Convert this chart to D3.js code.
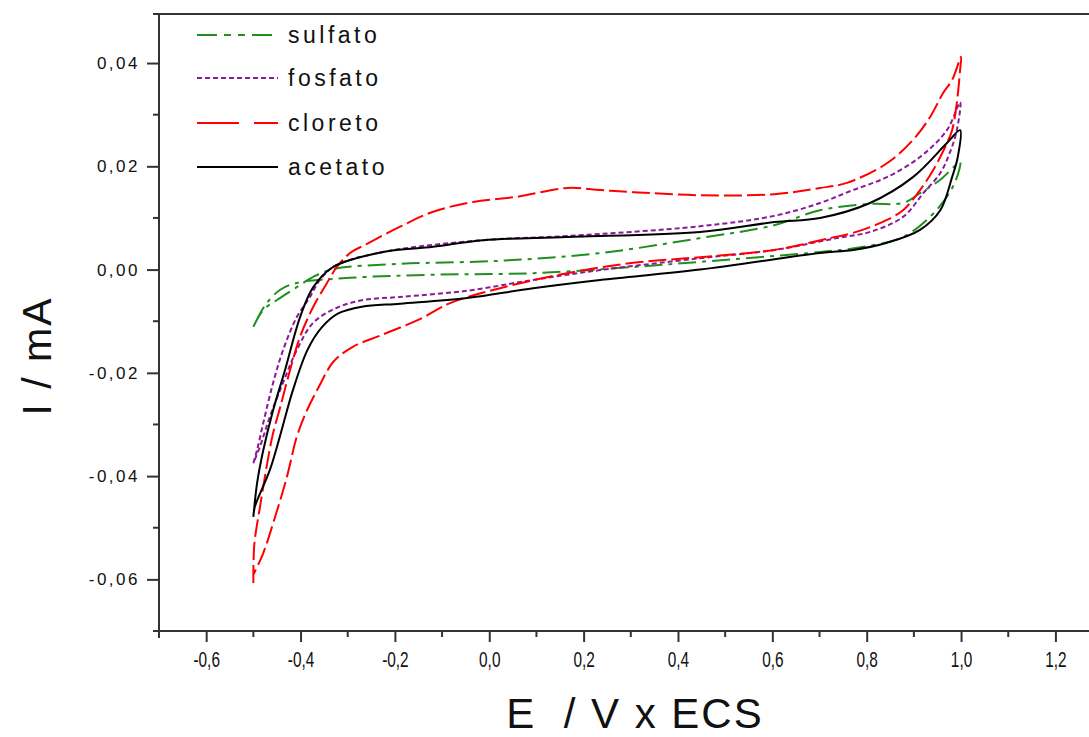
<!DOCTYPE html>
<html>
<head>
<meta charset="utf-8">
<script src="https://cdn.jsdelivr.net/npm/d3@7"></script>
<style>
  body { margin: 0; background: #fff; }
  svg { display: block; font-family: "Liberation Sans", Arial, sans-serif; }
</style>
</head>
<body>
<svg id="chart" width="1089" height="737"></svg>
<script>
// voltammograms, [E (V x ECS), I (mA)], forward scan then reverse scan
const sulfato = [
  [-0.500, -0.0111], [-0.479, -0.0078], [-0.450, -0.0059], [-0.408, -0.0034], [-0.373, -0.0014],
  [-0.331, 0.0001], [-0.189, 0.0011], [0.023, 0.0017], [0.235, 0.0032], [0.447, 0.0061],
  [0.604, 0.0086], [0.701, 0.0115], [0.807, 0.0127], [0.877, 0.0129], [0.913, 0.0148],
  [0.956, 0.0174], [0.998, 0.0208],
  [0.996, 0.0193], [0.985, 0.0165], [0.970, 0.0141], [0.934, 0.0102], [0.877, 0.0063], [0.793, 0.0044],
  [0.701, 0.0034], [0.447, 0.0015], [0.305, 0.0005], [0.093, -0.0007], [-0.119, -0.0010],
  [-0.295, -0.0016], [-0.408, -0.0026], [-0.443, -0.0039], [-0.475, -0.0069], [-0.500, -0.0111]
];

const fosfato = [
  [-0.500, -0.0375], [-0.492, -0.0349], [-0.479, -0.0297], [-0.458, -0.0219], [-0.437, -0.0156],
  [-0.408, -0.0092], [-0.380, -0.0053], [-0.359, -0.0020], [-0.327, 0.0007], [-0.225, 0.0034],
  [-0.013, 0.0057], [0.165, 0.0065], [0.447, 0.0084], [0.604, 0.0104], [0.701, 0.0129],
  [0.771, 0.0154], [0.843, 0.0179], [0.913, 0.0218], [0.970, 0.0270], [0.998, 0.0324],
  [0.991, 0.0270], [0.976, 0.0226], [0.956, 0.0187], [0.920, 0.0148], [0.877, 0.0102],
  [0.807, 0.0073], [0.737, 0.0061], [0.604, 0.0038], [0.447, 0.0022], [0.235, -0.0001],
  [0.093, -0.0020], [-0.047, -0.0041], [-0.189, -0.0053], [-0.267, -0.0059], [-0.323, -0.0074],
  [-0.373, -0.0103], [-0.408, -0.0156], [-0.437, -0.0219], [-0.465, -0.0285], [-0.486, -0.0343],
  [-0.500, -0.0375]
];

const cloreto = [
  [-0.500, -0.0607], [-0.498, -0.0533], [-0.486, -0.0460], [-0.460, -0.0324], [-0.443, -0.0266],
  [-0.422, -0.0194], [-0.401, -0.0130], [-0.373, -0.0072], [-0.344, -0.0026], [-0.323, 0.0005],
  [-0.295, 0.0032], [-0.259, 0.0050], [-0.189, 0.0083], [-0.119, 0.0112], [-0.034, 0.0131],
  [0.059, 0.0141], [0.165, 0.0158], [0.235, 0.0154], [0.305, 0.0150], [0.447, 0.0144],
  [0.604, 0.0146], [0.701, 0.0158], [0.758, 0.0168], [0.843, 0.0206], [0.898, 0.0251],
  [0.934, 0.0295], [0.962, 0.0342], [0.981, 0.0367], [1.000, 0.0412],
  [0.998, 0.0387], [0.991, 0.0323], [0.981, 0.0270], [0.966, 0.0237], [0.941, 0.0193],
  [0.913, 0.0154], [0.877, 0.0115], [0.828, 0.0090], [0.771, 0.0071], [0.722, 0.0061],
  [0.604, 0.0038], [0.447, 0.0024], [0.305, 0.0013], [0.165, -0.0007], [0.023, -0.0036],
  [-0.083, -0.0065], [-0.147, -0.0096], [-0.232, -0.0128], [-0.290, -0.0150], [-0.330, -0.0178],
  [-0.360, -0.0225], [-0.386, -0.0272], [-0.408, -0.0324], [-0.429, -0.0402], [-0.458, -0.0491],
  [-0.479, -0.0549], [-0.500, -0.0591]
];

const acetato = [
  [-0.500, -0.0479], [-0.492, -0.0413], [-0.479, -0.0350], [-0.458, -0.0272], [-0.433, -0.0195],
  [-0.401, -0.0092], [-0.373, -0.0034], [-0.331, 0.0005], [-0.225, 0.0034], [-0.119, 0.0044],
  [-0.013, 0.0057], [0.165, 0.0063], [0.447, 0.0073], [0.604, 0.0092], [0.701, 0.0100],
  [0.807, 0.0129], [0.898, 0.0179], [0.970, 0.0245], [0.998, 0.0270],
  [0.993, 0.0218], [0.981, 0.0179], [0.956, 0.0115], [0.913, 0.0077], [0.843, 0.0052],
  [0.771, 0.0038], [0.701, 0.0032], [0.447, 0.0000], [0.235, -0.0020], [0.093, -0.0036],
  [-0.047, -0.0055], [-0.189, -0.0066], [-0.270, -0.0072], [-0.320, -0.0085], [-0.355, -0.0112],
  [-0.385, -0.0155], [-0.416, -0.0233], [-0.444, -0.0324], [-0.465, -0.0388], [-0.497, -0.0460],
  [-0.500, -0.0479]
];

const seriesNames = ["sulfato", "fosfato", "cloreto", "acetato"];
const seriesData = [sulfato, fosfato, cloreto, acetato];

const yMajorTicks = [-0.06, -0.04, -0.02, 0.00, 0.02, 0.04];
const yMinorTicks = [-0.05, -0.03, -0.01, 0.01, 0.03];
const xMajorTicks = [-0.6, -0.4, -0.2, 0.0, 0.2, 0.4, 0.6, 0.8, 1.0, 1.2];
const xMinorTicks = [-0.5, -0.3, -0.1, 0.1, 0.3, 0.5, 0.7, 0.9, 1.1, 1.3];

// styles
const styles = {
  sulfato: { color: "#1f8f1f", dash: "18,6,4,6", legendDash: "20,7,7,7,7,7" },
  fosfato: { color: "#8a1a9a", dash: "5,3", legendDash: "5,3" },
  cloreto: { color: "#ff0000", dash: "18,5", legendDash: "42,15" },
  acetato: { color: "#000000", dash: null, legendDash: null }
};

const svg = d3.select("#chart");
const plotLeft = 159, plotTop = 14, plotBottom = 631;

const x = d3.scaleLinear().domain([-0.7, 1.4]).range([plotLeft, plotLeft + 2.1 * 471.8]);
const y = d3.scaleLinear().domain([-0.07, 0.0495]).range([plotBottom, plotTop]);

const comma = d => d.toFixed(2).replace(".", ",");
const commaX = d => d.toFixed(1).replace(".", ",");

// y axis
const yAxis = svg.append("g").attr("transform", `translate(${plotLeft},0)`);
yAxis.call(d3.axisLeft(y).tickValues(yMajorTicks).tickSize(12).tickSizeOuter(0).tickFormat(comma).tickPadding(7));
yAxis.select(".domain").remove();
yAxis.selectAll(".tick line").attr("stroke", "#333").attr("stroke-width", 2);
yAxis.selectAll(".tick text")
  .attr("fill", "#111")
  .style("font-size", "17px")
  .style("letter-spacing", "2.5px");
yAxis.selectAll("line.minor")
  .data(yMinorTicks)
  .join("line")
  .attr("class", "minor")
  .attr("x1", -6).attr("x2", 0)
  .attr("y1", d => y(d)).attr("y2", d => y(d))
  .attr("stroke", "#333").attr("stroke-width", 2);

// x axis
const xAxis = svg.append("g").attr("transform", `translate(0,${plotBottom})`);
xAxis.call(d3.axisBottom(x).tickValues(xMajorTicks).tickSize(11).tickSizeOuter(0).tickFormat(commaX).tickPadding(9));
xAxis.select(".domain").remove();
xAxis.selectAll(".tick line").attr("stroke", "#333").attr("stroke-width", 2);
xAxis.selectAll(".tick text")
  .attr("fill", "#111")
  .attr("transform", "scale(0.7,1)")
  .style("font-size", "22px");
xAxis.selectAll("line.minor")
  .data(xMinorTicks)
  .join("line")
  .attr("class", "minor")
  .attr("x1", d => x(d)).attr("x2", d => x(d))
  .attr("y1", 0).attr("y2", 6)
  .attr("stroke", "#333").attr("stroke-width", 2);

// frame lines (left, bottom, top) with Origin-like overshoot
const frame = svg.append("g").attr("stroke", "#333").attr("stroke-width", 2);
frame.append("line").attr("x1", plotLeft).attr("x2", plotLeft).attr("y1", plotTop).attr("y2", plotBottom + 7);
frame.append("line").attr("x1", plotLeft - 6).attr("x2", 1089).attr("y1", plotBottom).attr("y2", plotBottom);
frame.append("line").attr("x1", plotLeft - 6).attr("x2", 1089).attr("y1", plotTop).attr("y2", plotTop);

// curves
const line = d3.line().x(d => x(d[0])).y(d => y(d[1])).curve(d3.curveCatmullRom.alpha(0.5));
svg.append("g").selectAll("path.cv")
  .data(seriesNames)
  .join("path")
  .attr("class", "cv")
  .attr("d", (d, i) => line(seriesData[i]))
  .attr("fill", "none")
  .attr("stroke", d => styles[d].color)
  .attr("stroke-width", 2)
  .attr("stroke-dasharray", d => styles[d].dash);

// legend
const legendY = [35, 78, 123, 167];
const legend = svg.append("g");
legend.selectAll("g.row")
  .data(seriesNames)
  .join("g")
  .attr("class", "row")
  .attr("transform", (d, i) => `translate(197,${legendY[i]})`)
  .each(function(d) {
    const row = d3.select(this);
    row.append("line")
      .attr("x1", 0).attr("x2", 81)
      .attr("stroke", styles[d].color)
      .attr("stroke-width", 2)
      .attr("stroke-dasharray", styles[d].legendDash);
    row.append("text")
      .attr("x", 91)
      .attr("dy", "0.35em")
      .attr("fill", "#111")
      .style("font-size", "23px")
      .style("letter-spacing", "3.5px")
      .text(d);
  });

// axis titles
svg.append("text")
  .attr("transform", "translate(51,356) rotate(-90)")
  .attr("text-anchor", "middle")
  .attr("fill", "#111")
  .style("font-size", "41px")
  .style("letter-spacing", "2px")
  .text("I / mA");

svg.append("text")
  .attr("transform", "translate(635,728)")
  .attr("text-anchor", "middle")
  .attr("fill", "#111")
  .style("font-size", "42px")
  .style("letter-spacing", "2px")
  .style("white-space", "pre")
  .text("E  / V x ECS");
</script>
</body>
</html>
